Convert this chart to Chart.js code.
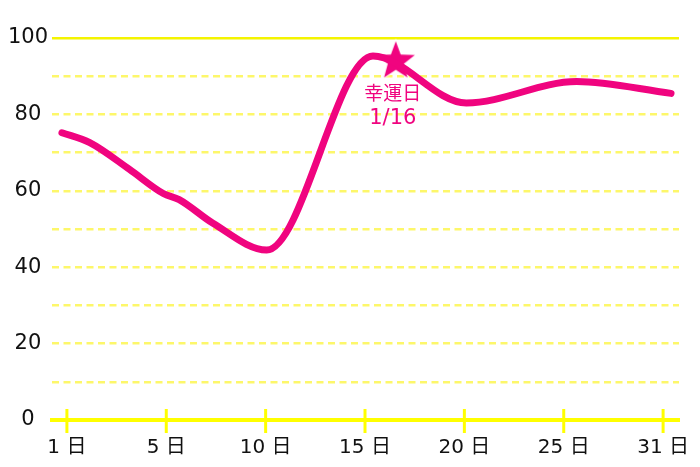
<!DOCTYPE html>
<html>
<head>
<meta charset="utf-8">
<script src="https://cdn.jsdelivr.net/npm/chart.js@4"></script>
<style>
    html, body { margin: 0; padding: 0; background: #fff; }
    #wrap { width: 700px; height: 467px; }
</style>
</head>
<body>
<div id="wrap"><canvas id="grafico"></canvas></div>
<script>
// Eixo X: posições em unidades de marca (0 = "1 日", 6 = "31 日")
const tickLabels = ['1 日', '5 日', '10 日', '15 日', '20 日', '25 日', '31 日'];
const tickPos = [0, 1, 2, 3, 4, 5, 6];

// Curva principal
const linePos = [-0.05, 0.23, 0.63, 0.97, 1.13, 1.47, 2.01, 3.08, 4.02, 5.13, 6.08];
const lineValues = [75.2, 72.6, 65.6, 59.3, 57.7, 51.5, 44.5, 95.3, 83.0, 88.6, 85.5];

// Dia de sorte
const luckyPos = [3.31];
const luckyValues = [93.9];
const luckyText = ['幸運日', '1/16'];

const pink = '#f0047f';
const fontFamily = '"DejaVu Sans", "Noto Sans CJK JP", sans-serif';

// Estrela preenchida para o ponto
function criarEstrela(raio) {
    const tam = Math.ceil(raio * 2 + 6);
    const cv = document.createElement('canvas');
    cv.width = tam;
    cv.height = tam;
    const c = cv.getContext('2d');
    const cx = tam / 2, cy = tam / 2;
    c.beginPath();
    for (let i = 0; i < 10; i++) {
        const r = i % 2 === 0 ? raio : raio * 0.42;
        const a = -Math.PI / 2 + i * Math.PI / 5;
        const px = cx + r * Math.cos(a);
        const py = cy + r * Math.sin(a);
        if (i === 0) c.moveTo(px, py); else c.lineTo(px, py);
    }
    c.closePath();
    c.fillStyle = pink;
    c.strokeStyle = '#fff';
    c.lineWidth = 2;
    c.stroke();
    c.fill();
    return cv;
}

// Marcas verticais sobre o eixo X
const marcasPlugin = {
    id: 'marcas',
    afterDraw(chart) {
        const x = chart.scales.x;
        const ctx = chart.ctx;
        const base = chart.chartArea.bottom;
        ctx.save();
        ctx.strokeStyle = '#ffff00';
        ctx.lineWidth = 3;
        tickPos.forEach(v => {
            const px = x.getPixelForValue(v);
            ctx.beginPath();
            ctx.moveTo(px, base - 11);
            ctx.lineTo(px, base + 13);
            ctx.stroke();
        });
        ctx.restore();
    }
};

// Texto abaixo da estrela
const rotuloPlugin = {
    id: 'rotulo',
    afterDatasetsDraw(chart) {
        const pt = chart.getDatasetMeta(1).data[0];
        if (!pt) return;
        const ctx = chart.ctx;
        ctx.save();
        ctx.fillStyle = pink;
        ctx.textAlign = 'center';
        ctx.textBaseline = 'middle';
        ctx.font = '19px ' + fontFamily;
        ctx.fillText(luckyText[0], pt.x - 3, pt.y + 34);
        ctx.font = '21px ' + fontFamily;
        ctx.fillText(luckyText[1], pt.x - 3, pt.y + 57);
        ctx.restore();
    }
};

const ctx = document.getElementById('grafico').getContext('2d');

new Chart(ctx, {
    type: 'line',
    data: {
        datasets: [{
            data: linePos.map((p, i) => ({ x: p, y: lineValues[i] })),
            borderColor: pink,
            borderWidth: 7,
            borderCapStyle: 'round',
            borderJoinStyle: 'round',
            cubicInterpolationMode: 'monotone',
            pointRadius: 0,
            fill: false
        }, {
            data: luckyPos.map((p, i) => ({ x: p, y: luckyValues[i] })),
            showLine: false,
            pointStyle: criarEstrela(20),
            pointRadius: 20
        }]
    },
    options: {
        responsive: true,
        maintainAspectRatio: false,
        animation: false,
        layout: {
            padding: { top: 38, right: 21, left: 0, bottom: 0 }
        },
        plugins: {
            legend: { display: false },
            tooltip: { enabled: false }
        },
        scales: {
            x: {
                type: 'linear',
                min: -0.15,
                max: 6.16,
                afterBuildTicks: scale => {
                    scale.ticks = tickPos.map(v => ({ value: v }));
                },
                afterFit: scale => {
                    scale.height = 47;
                    scale.paddingLeft = 0;
                    scale.paddingRight = 0;
                },
                grid: { drawOnChartArea: false, drawTicks: false },
                border: { display: true, color: '#ffff00', width: 4 },
                ticks: {
                    autoSkip: false,
                    maxRotation: 0,
                    padding: 16,
                    color: '#111',
                    font: { family: fontFamily, size: 20 },
                    callback: (value) => tickLabels[tickPos.indexOf(value)]
                }
            },
            y: {
                min: 0,
                max: 100,
                afterFit: scale => { scale.width = 52; },
                grid: {
                    drawTicks: false,
                    lineWidth: 2.5,
                    color: c => {
                        if (c.tick.value === 0) return 'rgba(0,0,0,0)';
                        return c.tick.value === 100 ? '#f4f400' : '#fdf76a';
                    }
                },
                border: {
                    display: false,
                    dash: c => (c.tick && c.tick.value === 100) ? [] : [7, 4.5]
                },
                ticks: {
                    stepSize: 10,
                    padding: 4,
                    crossAlign: 'center',
                    color: '#111',
                    font: { family: fontFamily, size: 21 },
                    callback: value => value % 20 === 0 ? value : ''
                }
            }
        }
    },
    plugins: [marcasPlugin, rotuloPlugin]
});
</script>
</body>
</html>
